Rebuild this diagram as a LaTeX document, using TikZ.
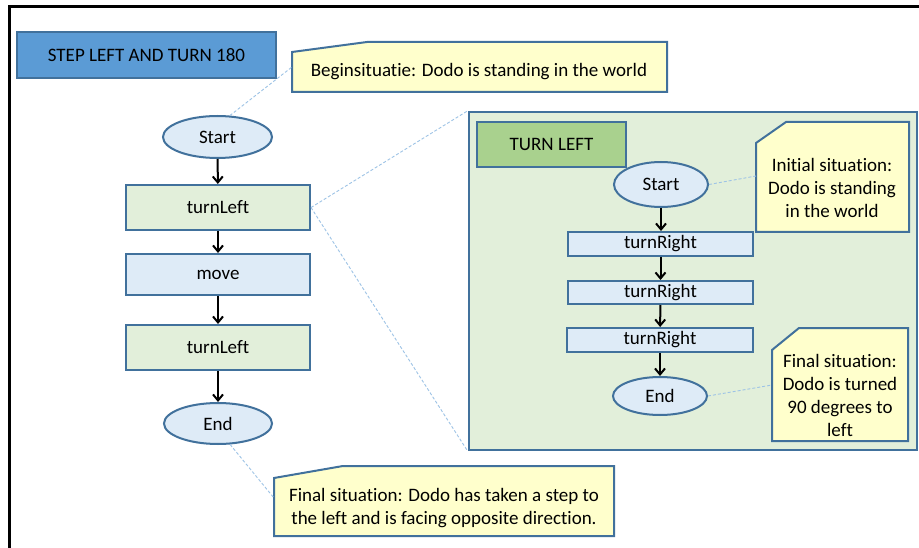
\documentclass[tikz,border=0pt]{standalone}
\usepackage{fontspec}
\setmainfont{Carlito}[Ligatures=NoCommon]
\usetikzlibrary{shapes.geometric,arrows.meta}
\definecolor{edgeblue}{HTML}{41719C}
\definecolor{titleblue}{HTML}{5B9BD5}
\definecolor{paleblue}{HTML}{DEEBF7}
\definecolor{palegreen}{HTML}{E2EFDA}
\definecolor{midgreen}{HTML}{A9D18E}
\definecolor{noteyellow}{HTML}{FFFFCC}
\definecolor{linkblue}{HTML}{9DC3E6}
\tikzset{
  boxbase/.style={rectangle, draw=edgeblue, line width=2pt, inner sep=0pt},
  actionbox/.style={boxbase, fill=paleblue},
  callbox/.style={boxbase, fill=palegreen},
  terminal/.style={ellipse, draw=edgeblue, line width=2pt, fill=paleblue, inner sep=0pt},
  notebox/.style={draw=edgeblue, line width=2pt, fill=noteyellow, line join=miter},
  notetext/.style={align=center, inner sep=0pt},
  flow/.style={line width=2pt, -{Straight Barb[length=6pt,width=10pt]}},
  link/.style={draw=linkblue, line width=0.9pt, dash pattern=on 3pt off 2pt}
}
\begin{document}
\begin{tikzpicture}[x=1pt, y=-1pt, font=\fontsize{19}{23.3}\selectfont]
\useasboundingbox (0,0) rectangle (919,548);
\fill[white] (0,0) rectangle (919,548);

% outer frame (left and top edges)
\draw[black, line width=3pt] (9,548) -- (9,7) -- (919,7);

% title
\node[boxbase, fill=titleblue, minimum width=259pt, minimum height=46pt] (title) at (146.5,55) {STEP LEFT AND TURN 180};

% main flow
\node[terminal, minimum width=109pt, minimum height=42pt] (start) at (217.5,137) {Start};
\node[callbox, minimum width=184pt, minimum height=45pt] (tl1) at (218,207.5) {turnLeft};
\node[actionbox, minimum width=184pt, minimum height=41pt] (mv) at (218,274.5) {move};
\node[callbox, minimum width=184pt, minimum height=45pt] (tl2) at (218,347.5) {turnLeft};
\node[terminal, minimum width=108pt, minimum height=41pt] (end) at (218,423.5) {End};

\draw[flow] (start) -- (tl1);
\draw[flow] (tl1) -- (mv);
\draw[flow] (mv) -- (tl2);
\draw[flow] (tl2) -- (end);

% note: start of the main flow
\draw[notebox] (292,52) -- (367,42) -- (667,42) -- (667,92) -- (292,92) -- cycle;
\node[notetext] (note1) at (479,72) {Beginsituatie: Dodo is standing in the world};
\coordinate (note1in) at (292,67);
\draw[link] (start.60) -- (note1in);

% note: end of the main flow
\draw[notebox] (274,478) -- (343,466) -- (614,466) -- (614,536) -- (274,536) -- cycle;
\node[notetext] (note2) at (444,508) {Final situation: Dodo has taken a step to\\the left and is facing opposite direction.};
\coordinate (note2in) at (274,498);
\draw[link] (end.-60) -- (note2in);

% expanded turnLeft
\node[callbox, line width=2.5pt, minimum width=448pt, minimum height=338pt] (detail) at (693,281) {};
\draw[link] (tl1.east) -- (detail.north west);
\draw[link] (tl1.east) -- (detail.south west);

\node[boxbase, fill=midgreen, minimum width=149pt, minimum height=45pt] (dtitle) at (551.5,144.5) {TURN LEFT};

\node[terminal, minimum width=94pt, minimum height=45pt] (dstart) at (661,184.5) {Start};
\node[actionbox, minimum width=185pt, minimum height=24pt] (tr1) at (660.5,244) {turnRight};
\node[actionbox, minimum width=185pt, minimum height=23pt] (tr2) at (660.5,292.5) {turnRight};
\node[actionbox, minimum width=186pt, minimum height=24pt] (tr3) at (660,340) {turnRight};
\node[terminal, minimum width=94pt, minimum height=38pt] (dend) at (660,396) {End};

\draw[flow] (dstart) -- (tr1.north -| dstart);
\draw[flow] (tr1) -- (tr2);
\draw[flow] (tr2) -- (tr3);
\draw[flow] (tr3) -- (dend);

% detail notes
\draw[notebox] (756,143) -- (786,122) -- (909,122) -- (909,232) -- (756,232) -- cycle;
\node[notetext] (note3) at (832,188) {Initial situation:\\Dodo is standing\\in the world};
\coordinate (note3in) at (756,176);
\draw[link] (dstart.east) -- (note3in);

\draw[notebox] (772,350) -- (799,328) -- (908,328) -- (908,441) -- (772,441) -- cycle;
\node[notetext] (note4) at (840,395.5) {Final situation:\\Dodo is turned\\90 degrees to\\left};
\coordinate (note4in) at (772,385);
\draw[link] (dend.east) -- (note4in);
\end{tikzpicture}
\end{document}
